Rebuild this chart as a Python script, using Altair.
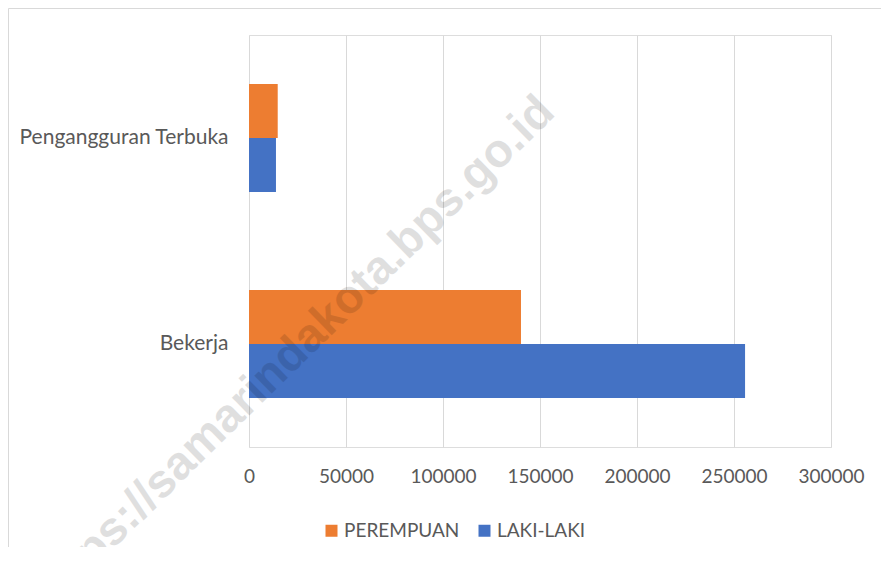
import altair as alt
import pandas as pd

categories = ["Pengangguran Terbuka", "Bekerja"]
series = ["PEREMPUAN", "LAKI-LAKI"]
perempuan = [14800, 140200]
laki_laki = [13900, 255700]
x_ticks = [0, 50000, 100000, 150000, 200000, 250000, 300000]
colors = ["#ED7D31", "#4472C4"]
watermark = "https://samarindakota.bps.go.id"

rows = []
for c, p, l in zip(categories, perempuan, laki_laki):
    rows.append({"kategori": c, "jenis": series[0], "nilai": p})
    rows.append({"kategori": c, "jenis": series[1], "nilai": l})
df = pd.DataFrame(rows)

FONT = "Lato"
GRAY = "#595959"
W, H = 582, 412

bars = alt.Chart(df).mark_bar().encode(
    y=alt.Y("kategori:N", sort=categories, title=None,
            scale=alt.Scale(paddingInner=0.4757, paddingOuter=0.2379),
            axis=alt.Axis(ticks=False, domain=False, labelPadding=21,
                          labelFontSize=21, labelFont=FONT, labelColor=GRAY,
                          labelLimit=300)),
    x=alt.X("nilai:Q", title=None,
            scale=alt.Scale(domain=[0, 300000], nice=False),
            axis=alt.Axis(values=x_ticks, format="d", ticks=False, domain=False,
                          grid=True, gridColor="#d9d9d9", gridWidth=1,
                          labelPadding=20, labelFontSize=19, labelFont=FONT,
                          labelColor=GRAY, labelFlush=False)),
    yOffset=alt.YOffset("jenis:N", sort=series,
                        scale=alt.Scale(paddingInner=0, paddingOuter=0)),
    color=alt.Color("jenis:N", sort=series,
                    scale=alt.Scale(domain=series, range=colors),
                    legend=alt.Legend(title=None, orient="none", legendX=73, legendY=486,
                                      direction="horizontal", symbolType="square",
                                      symbolSize=144, symbolStrokeWidth=0,
                                      labelFontSize=19, labelFont=FONT, labelColor=GRAY,
                                      labelOffset=3, columnPadding=15, padding=0)),
)

wm = alt.Chart(pd.DataFrame({"t": [watermark]})).mark_text(
    font="Liberation Sans", fontWeight="bold", fontSize=47, angle=315.6,
    align="center", baseline="alphabetic", color="#000000", opacity=0.12,
).encode(text="t:N", x=alt.value(54), y=alt.value(328))

frame = alt.Chart(pd.DataFrame({"a": [0]})).mark_rect(
    fill=None, stroke="#d9d9d9", strokeWidth=1
).encode(x=alt.value(-240.5), x2=alt.value(800), y=alt.value(-26.5), y2=alt.value(800))

chart = alt.layer(frame, bars, wm).properties(
    width=W, height=H,
    autosize=alt.AutoSizeParams(type="none"),
    padding={"left": 241, "top": 27, "right": 50, "bottom": 100},
).configure_view(stroke=None).configure(background="white")

chart.save("out.html", embed_options={"renderer": "svg", "actions": False})
